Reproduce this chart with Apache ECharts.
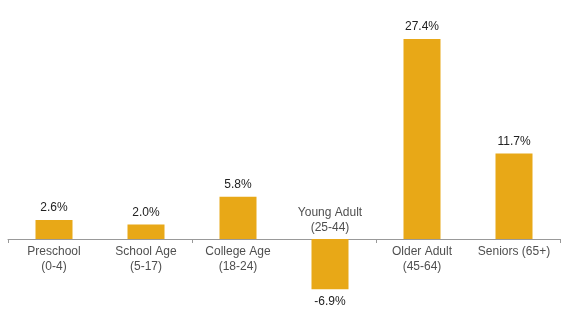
<!DOCTYPE html>
<html><head><meta charset="utf-8">
<script src="https://cdn.jsdelivr.net/npm/echarts@6/dist/echarts.min.js"></script>
<style>html,body{margin:0;padding:0;background:#fff}#c{width:568px;height:324px}</style>
</head><body><div id="c"></div>
<script>
var categories = ['Preschool\n(0-4)', 'School Age\n(5-17)', 'College Age\n(18-24)', 'Young Adult\n(25-44)', 'Older Adult\n(45-64)', 'Seniors (65+)'];
var values = [2.6, 2.0, 5.8, -6.9, 27.4, 11.7];

var chart = echarts.init(document.getElementById('c'));
var font = 'Liberation Sans, Arial, Helvetica, sans-serif';
chart.setOption({
  animation: false,
  grid: {left: 8, right: 8, top: 20, bottom: 12, containLabel: false},
  xAxis: {
    type: 'category', data: categories,
    axisLine: {onZero: true, lineStyle: {color: '#999', width: 1}},
    axisTick: {show: true, length: 4, lineStyle: {color: '#999'}},
    axisLabel: {show: false}
  },
  yAxis: {type: 'value', min: -10, max: 30, show: false, splitLine: {show: false}},
  series: [{
    type: 'bar', data: values.map(function (v) {
      return {value: v, label: {position: v < 0 ? 'bottom' : 'top'}};
    }),
    barWidth: 37,
    itemStyle: {color: '#E8A817'},
    label: {show: true, distance: 6, color: '#222', fontSize: 12, fontFamily: font,
      formatter: function (p) { return p.value.toFixed(1) + '%'; }}
  }, {
    type: 'scatter', symbolSize: 1, itemStyle: {color: 'rgba(0,0,0,0)'},
    data: values.map(function (v, i) {
      return {value: [i, 0], label: {position: v < 0 ? 'top' : 'bottom', distance: v < 0 ? 3 : 5}};
    }),
    label: {show: true, color: '#222', fontSize: 12, fontFamily: font, lineHeight: 15, align: 'center',
      formatter: function (p) { return categories[p.dataIndex]; }},
    silent: true, z: 5
  }]
});
</script></body></html>
